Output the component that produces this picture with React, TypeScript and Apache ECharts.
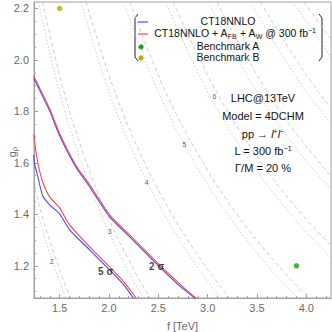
import React, { useEffect, useRef } from "react";
import * as echarts from "echarts";

// ---- axis ticks ----
const xMajorTicks = [1.5, 2.0, 2.5, 3.0, 3.5, 4.0];
const xMinorTicks = [1.3, 1.4, 1.6, 1.7, 1.8, 1.9, 2.1, 2.2, 2.3, 2.4, 2.6, 2.7, 2.8, 2.9, 3.1, 3.2, 3.3, 3.4, 3.6, 3.7, 3.8, 3.9, 4.1, 4.2];
const yMajorTicks = [1.2, 1.4, 1.6, 1.8, 2.0, 2.2];
const yMinorTicks = [1.1, 1.15, 1.25, 1.3, 1.35, 1.45, 1.5, 1.55, 1.65, 1.7, 1.75, 1.85, 1.9, 1.95, 2.05, 2.1, 2.15];

// ---- significance contours [f, g_rho] ----
const ct18_2sigma = [[1.237, 1.930], [1.399, 1.802], [1.5, 1.705], [1.662, 1.585], [1.804, 1.507], [2.007, 1.390], [2.240, 1.301], [2.442, 1.223], [2.584, 1.169], [2.716, 1.122], [2.878, 1.072]];
const afb_2sigma = [[1.237, 1.938], [1.399, 1.810], [1.5, 1.713], [1.662, 1.592], [1.804, 1.515], [2.007, 1.398], [2.240, 1.309], [2.442, 1.231], [2.584, 1.177], [2.716, 1.130], [2.888, 1.072]];
const ct18_5sigma = [[1.237, 1.631], [1.247, 1.592], [1.267, 1.565], [1.328, 1.472], [1.399, 1.437], [1.5, 1.402], [1.601, 1.340], [1.804, 1.262], [2.007, 1.184], [2.159, 1.122], [2.250, 1.072]];
const afb_5sigma = [[1.237, 1.709], [1.257, 1.650], [1.287, 1.584], [1.338, 1.515], [1.399, 1.468], [1.5, 1.425], [1.601, 1.359], [1.804, 1.274], [2.007, 1.196], [2.159, 1.134], [2.280, 1.072]];

// ---- grey mass contours (dotted = labelled, dashed = partner) ----
const mass2Dotted = [[1.129, 1.631], [1.280, 1.4], [1.443, 1.2], [1.563, 1.076]];
const mass2Dashed = [[1.163, 1.631], [1.318, 1.4], [1.486, 1.2], [1.610, 1.076]];
const mass3Dotted = [[1.287, 2.225], [1.483, 1.9], [1.693, 1.631], [1.921, 1.4], [2.165, 1.2], [2.344, 1.076]];
const mass3Dashed = [[1.326, 2.225], [1.527, 1.9], [1.744, 1.631], [1.979, 1.4], [2.230, 1.2], [2.414, 1.076]];
const mass4Dotted = [[1.716, 2.225], [1.978, 1.9], [2.257, 1.631], [2.561, 1.4], [2.887, 1.2], [3.125, 1.076]];
const mass4Dashed = [[1.767, 2.225], [2.037, 1.9], [2.325, 1.631], [2.638, 1.4], [2.974, 1.2], [3.219, 1.076]];
const mass5Dotted = [[2.146, 2.225], [2.472, 1.9], [2.822, 1.631], [3.201, 1.4], [3.609, 1.2], [3.907, 1.076]];
const mass5Dashed = [[2.210, 2.225], [2.546, 1.9], [2.907, 1.631], [3.297, 1.4], [3.717, 1.2], [4.024, 1.076]];
const mass6Dotted = [[2.575, 2.225], [2.967, 1.9], [3.386, 1.631], [3.841, 1.4], [4.330, 1.2]];
const mass6Dashed = [[2.652, 2.225], [3.056, 1.9], [3.488, 1.631], [3.956, 1.4], [4.460, 1.2]];
const mass7Dotted = [[3.004, 2.225], [3.461, 1.9], [3.950, 1.631], [4.481, 1.4]];
const mass7Dashed = [[3.094, 2.225], [3.565, 1.9], [4.069, 1.631], [4.615, 1.4]];
const mass8Dotted = [[3.433, 2.225], [3.956, 1.9], [4.515, 1.631]];
const mass8Dashed = [[3.536, 2.225], [4.075, 1.9], [4.650, 1.631]];
const mass9Dotted = [[3.862, 2.225], [4.450, 1.9]];
const mass9Dashed = [[3.978, 2.225], [4.584, 1.9]];

// contour labels [f, g, text]
const massLabels = [[1.419, 1.2155, "2"], [2.007, 1.332, "3"], [2.381, 1.522, "4"], [2.766, 1.670, "5"], [3.070, 1.856, "6"]];
const sigmaLabels = [[1.966, 1.177, "5 σ"], [2.483, 1.196, "2 σ"]];

// benchmarks
const benchmarkA = [[3.9, 1.2]];
const benchmarkB = [[1.5, 2.2]];

const BLUE = "#4848f8";
const RED = "#f84848";
const GREEN = "#10a010";
const OLIVE = "#b4ac00";
const GREY = "#c2c2c2";
const FRAME = "#a0a0a0";
const TICKTXT = "#6a6a6a";
const FONT = "Liberation Sans";

function contour(data: number[][], type: any, z = 1) {
  return {
    type: "line",
    data,
    symbol: "none",
    smooth: 0.4,
    silent: true,
    z,
    lineStyle: { color: GREY, width: 0.8, type },
  };
}

function sig(data: number[][], color: string) {
  return {
    type: "line",
    data,
    symbol: "none",
    smooth: 0.2,
    silent: true,
    z: 5,
    lineStyle: { color, width: 1.1 },
  };
}

const supStyle = { fontSize: 7, fontFamily: FONT, fill: "#111", verticalAlign: "top", lineHeight: 7 };
const subStyle = { fontSize: 7, fontFamily: FONT, fill: "#111", verticalAlign: "bottom", lineHeight: 7 };

function txt(x: number, y: number, text: string, size = 10.5, rich: any = undefined) {
  return {
    type: "text", x, y,
    style: { text, fontSize: size, fontFamily: FONT, fill: "#111", align: "center", verticalAlign: "middle", lineHeight: 13, rich },
  };
}

export default function App() {
  const ref = useRef<HTMLDivElement>(null);
  useEffect(() => {
    const chart = echarts.init(ref.current!, null, { renderer: "svg" });
    const dotted = [1.5, 2];
    const dashed = [4, 3];
    const option: any = {
      animation: false,
      grid: { left: 34, right: 1, top: 2, bottom: 34, show: true, borderColor: FRAME, borderWidth: 1, backgroundColor: "transparent", outerBoundsMode: "none", containLabel: false },
      xAxis: [
        {
          type: "value", min: 1.24, max: 4.25, position: "bottom",
          name: "f [TeV]", nameLocation: "middle", nameGap: 22,
          nameTextStyle: { color: TICKTXT, fontSize: 11, fontFamily: FONT },
          axisLine: { show: true, lineStyle: { color: FRAME } },
          axisTick: { show: true, inside: true, length: 4, customValues: xMajorTicks, lineStyle: { color: FRAME } },
          axisLabel: { customValues: xMajorTicks, formatter: (v: number) => v.toFixed(1), color: TICKTXT, fontSize: 11, fontFamily: FONT, margin: 4 },
          splitLine: { show: false },
        },
        {
          type: "value", min: 1.24, max: 4.25, position: "bottom",
          axisLine: { show: false },
          axisTick: { show: true, inside: true, length: 2, customValues: xMinorTicks, lineStyle: { color: FRAME } },
          axisLabel: { show: false },
          splitLine: { show: false },
        },
      ],
      yAxis: [
        {
          type: "value", min: 1.075, max: 2.225, position: "left",
          axisLine: { show: true, lineStyle: { color: FRAME } },
          axisTick: { show: true, inside: true, length: 4, customValues: yMajorTicks, lineStyle: { color: FRAME } },
          axisLabel: { customValues: yMajorTicks, formatter: (v: number) => v.toFixed(1), color: TICKTXT, fontSize: 11, fontFamily: FONT, margin: 5 },
          splitLine: { show: false },
        },
        {
          type: "value", min: 1.075, max: 2.225, position: "left",
          axisLine: { show: false },
          axisTick: { show: true, inside: true, length: 2, customValues: yMinorTicks, lineStyle: { color: FRAME } },
          axisLabel: { show: false },
          splitLine: { show: false },
        },
      ],
      series: [
        contour(mass2Dotted, dotted), contour(mass2Dashed, dashed),
        contour(mass3Dotted, dotted), contour(mass3Dashed, dashed),
        contour(mass4Dotted, dotted), contour(mass4Dashed, dashed),
        contour(mass5Dotted, dotted), contour(mass5Dashed, dashed),
        contour(mass6Dotted, dotted), contour(mass6Dashed, dashed),
        contour(mass7Dotted, dotted), contour(mass7Dashed, dashed),
        contour(mass8Dotted, dotted), contour(mass8Dashed, dashed),
        contour(mass9Dotted, dotted), contour(mass9Dashed, dashed),
        sig(ct18_2sigma, BLUE), sig(afb_2sigma, RED),
        sig(ct18_5sigma, BLUE), sig(afb_5sigma, RED),
        {
          type: "scatter", data: massLabels, symbolSize: 0, silent: true, z: 6,
          label: { show: true, position: "inside", formatter: (p: any) => p.value[2], fontSize: 7, color: "#333", fontFamily: FONT },
        },
        {
          type: "scatter", data: sigmaLabels, symbolSize: 0, silent: true, z: 7,
          label: { show: true, position: "inside", formatter: (p: any) => p.value[2], fontSize: 10, fontWeight: "bold", color: "#111", fontFamily: FONT },
        },
        { type: "scatter", data: benchmarkA, symbolSize: 5.5, silent: true, z: 8, itemStyle: { color: GREEN } },
        { type: "scatter", data: benchmarkB, symbolSize: 5.5, silent: true, z: 8, itemStyle: { color: OLIVE } },
      ],
      graphic: [
        // y-axis title
        {
          type: "text", x: 12, y: 152, rotation: Math.PI / 2,
          style: {
            text: "g{s|ρ}", fontSize: 11, fontFamily: FONT, fill: TICKTXT, align: "center", verticalAlign: "middle", lineHeight: 13,
            rich: { s: { fontSize: 8, fontFamily: FONT, fill: TICKTXT, verticalAlign: "bottom", lineHeight: 8 } },
          },
        },
        // legend brackets and keys
        { type: "polyline", shape: { points: [[138, 14], [135, 18], [135, 57], [138, 61]] }, style: { stroke: "#222", lineWidth: 1, fill: null } },
        { type: "polyline", shape: { points: [[319, 14], [322, 18], [322, 57], [319, 61]] }, style: { stroke: "#222", lineWidth: 1, fill: null } },
        { type: "line", shape: { x1: 138, y1: 22, x2: 148, y2: 22 }, style: { stroke: BLUE, lineWidth: 1.2 } },
        { type: "line", shape: { x1: 138, y1: 34, x2: 148, y2: 34 }, style: { stroke: RED, lineWidth: 1.2 } },
        { type: "circle", shape: { cx: 141, cy: 47, r: 2.6 }, style: { fill: GREEN } },
        { type: "circle", shape: { cx: 141, cy: 58, r: 2.6 }, style: { fill: OLIVE } },
        txt(228, 21, "CT18NNLO"),
        txt(235, 33, "CT18NNLO + A{s|FB} + A{s|W} @ 300 fb{u|−1}", 10.5, { s: subStyle, u: supStyle }),
        txt(228, 46, "Benchmark A"),
        txt(228, 57, "Benchmark B"),
        // info block
        txt(263, 98, "LHC@13TeV", 11),
        txt(263, 116, "Model = 4DCHM", 11),
        txt(263, 134, "pp → {i|l}{u|+}{i|l}{u|−}", 11, { i: { fontSize: 11, fontStyle: "italic", fontFamily: FONT, fill: "#111" }, u: supStyle }),
        txt(263, 151, "L = 300 fb{u|−1}", 11, { u: supStyle }),
        txt(263, 168, "Γ/M = 20 %", 11),
      ],
    };
    chart.setOption(option);
    return () => chart.dispose();
  }, []);
  return <div ref={ref} style={{ position: "absolute", left: 0, top: 0, width: 332, height: 332, background: "#fff" }} />;
}
